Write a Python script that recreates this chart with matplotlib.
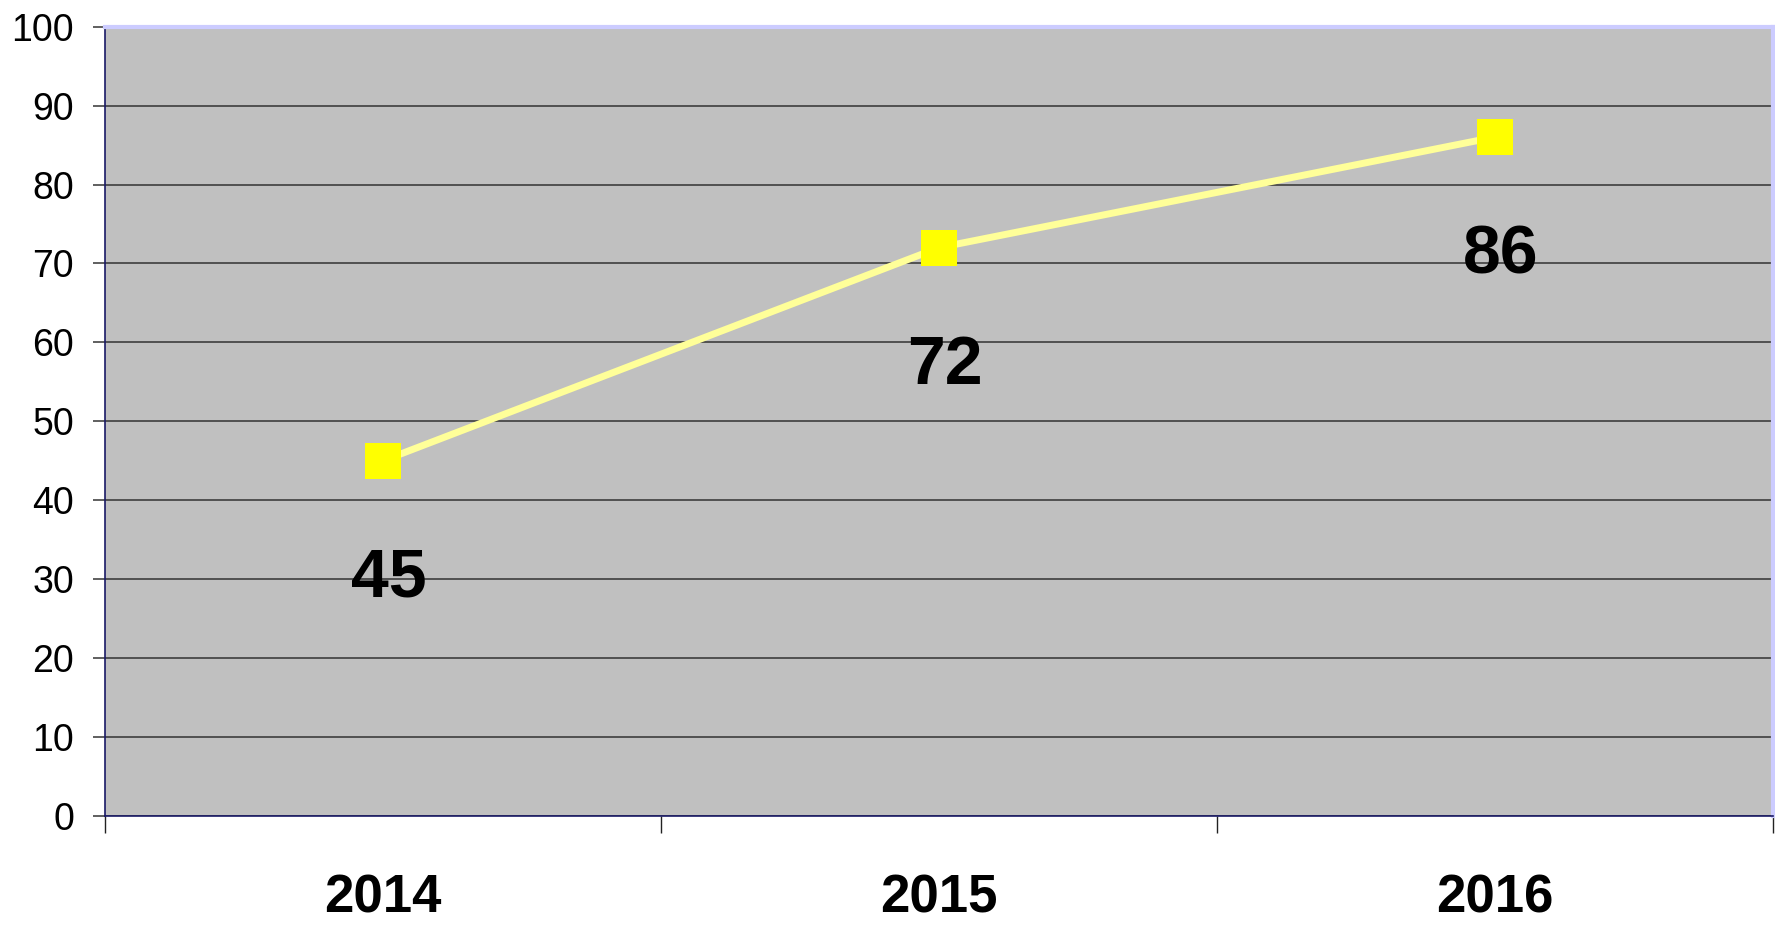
import matplotlib
matplotlib.use("Agg")
import matplotlib.pyplot as plt

categories = ["2014", "2015", "2016"]
values = [45, 72, 86]
y_ticks = [0, 10, 20, 30, 40, 50, 60, 70, 80, 90, 100]

plt.rcParams['font.family'] = ['Liberation Sans', 'DejaVu Sans']

fig = plt.figure(figsize=(17.75, 9.25), dpi=100)
ax = fig.add_axes([0.0594, 0.1182, 0.9392, 0.8529])
ax.set_facecolor('#c0c0c0')

x = list(range(len(categories)))
ax.plot(x, values, color='#ffff99', lw=5, zorder=3,
        marker='s', markersize=26, markerfacecolor='#ffff00',
        markeredgecolor='#ffff00', markeredgewidth=0)

for xi, v in zip(x, values):
    ax.annotate(str(v), (xi, v), xytext=(4, -85), textcoords='offset points',
                ha='center', va='center', fontsize=49, fontweight='bold',
                color='black', zorder=4)

ax.set_xlim(-0.5, len(categories) - 0.5)
ax.set_ylim(0, 100)
ax.set_yticks(y_ticks)
ax.set_yticklabels([str(t) for t in y_ticks], fontsize=27)
ax.yaxis.grid(True, color='#333333', lw=1.1)
ax.set_axisbelow(True)

ax.set_xticks(x)
ax.set_xticklabels(categories, fontsize=38, fontweight='bold')
ax.set_xticks([i - 0.5 for i in range(len(categories) + 1)], minor=True)
ax.tick_params(axis='x', which='major', length=0, pad=42)
ax.tick_params(axis='x', which='minor', length=12, width=1, color='#222222', direction='out')
ax.tick_params(axis='y', which='major', length=8.6, width=1.2, color='#444444', pad=14)

for s in ['top', 'right']:
    ax.spines[s].set_color('#ccccff')
    ax.spines[s].set_linewidth(3)
for s in ['left', 'bottom']:
    ax.spines[s].set_color('#1a1a66')
    ax.spines[s].set_linewidth(1.2)

fig.savefig('out.png', dpi=100, facecolor='white')
